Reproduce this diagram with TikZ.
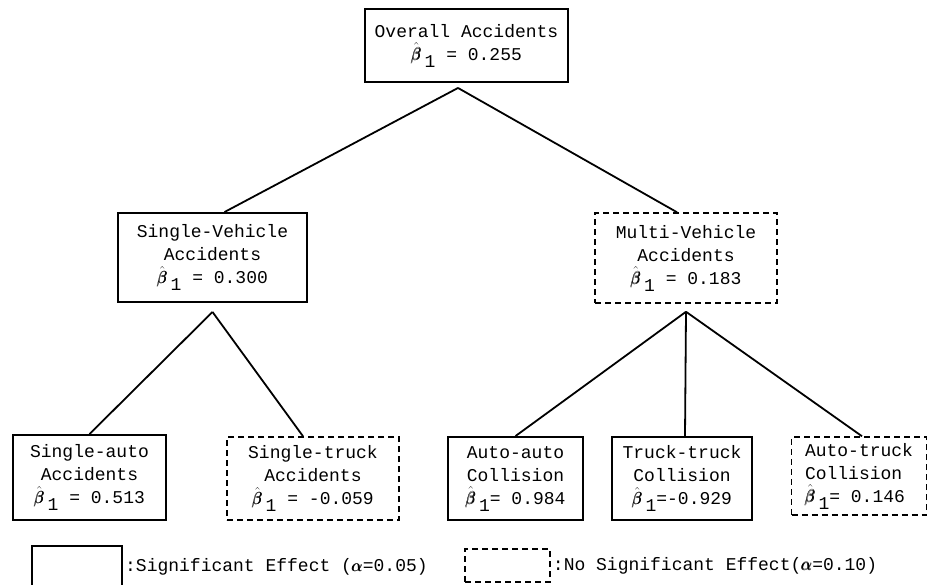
\documentclass[tikz,border=0pt]{standalone}
\usepackage{amsmath}
\usepackage{fontspec}
\setmonofont{Liberation Mono}
\newcommand{\bhat}{$\hat{\pmb{\beta}}$\kern3pt\raisebox{-7pt}{1}}

\begin{document}
\begin{tikzpicture}[x=1pt,y=1pt,
  box/.style={draw, line width=1.9pt, align=center, inner sep=0pt,
    font=\ttfamily\fontsize{18}{23}\selectfont},
  nosig/.style={box, line width=1.5pt, dash pattern=on 6pt off 4pt},
  link/.style={line width=1.8pt},
  legtext/.style={right, inner sep=2pt, font=\ttfamily\fontsize{18}{23}\selectfont}]
\useasboundingbox (0,0) rectangle (928,-584);

\node[box, minimum width=203, minimum height=73] (all) at (466.5,-45.5) {Overall Accidents\\\bhat{} = 0.255};

\node[box, minimum width=189, minimum height=89] (sv) at (212.5,-257.5) {Single-Vehicle\\Accidents\\\bhat{} = 0.300};
\node[nosig, minimum width=182, minimum height=90] (mv) at (686,-258) {Multi-Vehicle\\Accidents\\\bhat{} = 0.183};

\node[box, minimum width=153, minimum height=85] (sa) at (89.5,-477.5) {Single-auto\\Accidents\\\bhat{} = 0.513};
\node[nosig, minimum width=172, minimum height=83] (st) at (313,-478.5) {Single-truck\\Accidents\\\bhat{} = -0.059};
\node[box, minimum width=135, minimum height=83] (aa) at (515.5,-478.5) {Auto-auto\\Collision\\\bhat{}= 0.984};
\node[box, minimum width=140, minimum height=83] (tt) at (682,-478.5) {Truck-truck\\Collision\\\bhat{}=-0.929};
\node[nosig, align=left, minimum width=135, minimum height=78] (at) at (859,-476) {Auto-truck\\Collision\\\bhat{}= 0.146};

\coordinate (allfork) at ([xshift=-8.5,yshift=-5]all.south);
\coordinate (svfork) at ([yshift=-9]sv.south);
\coordinate (mvfork) at ([yshift=-8]mv.south);

\draw[link] (allfork) -- ([xshift=12]sv.north);
\draw[link] (allfork) -- ([xshift=-9]mv.north);
\draw[link] (svfork) -- (sa.north);
\draw[link] (svfork) -- ([xshift=-10]st.north);
\draw[link] (mvfork) -- (aa.north);
\draw[link] (mvfork) -- ([xshift=3]tt.north);
\draw[link] (mvfork) -- ([xshift=3]at.north);

\node[box, minimum width=90, minimum height=42] (legsig) at (77,-567) {};
\node[legtext] (legsigtext) at (legsig.east) {:Significant Effect ($\pmb{\alpha}$=0.05)};
\node[nosig, minimum width=85, minimum height=33] (legnosig) at (507.5,-565.5) {};
\node[legtext] (legnosigtext) at (legnosig.east) {:No Significant Effect($\pmb{\alpha}$=0.10)};
\end{tikzpicture}
\end{document}
